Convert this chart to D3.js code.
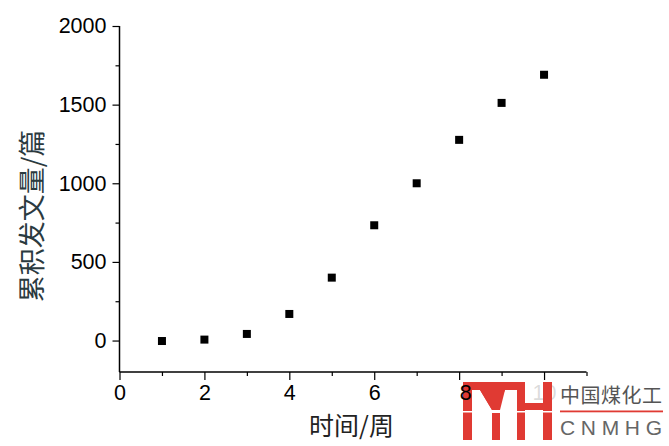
<!DOCTYPE html>
<html><head><meta charset="utf-8">
<script src="https://cdn.jsdelivr.net/npm/d3@7"></script>
<style>body{margin:0;background:#fff}svg{display:block}</style>
</head><body>
<svg id="c" width="669" height="446"></svg>
<script>
const weeks = [1,2,3,4,5,6,7,8,9,10];
const cumulative = [-3,6,42,169,400,733,1000,1276,1511,1690];
const xMajorTicks = [0,2,4,6,8,10];
const xMinorTicks = [1,3,5,7,9,11];
const yMajorTicks = [0,500,1000,1500,2000];
const yMinorTicks = [250,750,1250,1750];
const xTitle = "时间/周";
const yTitle = "累积发文量/篇";
const logoCn = "中国煤化工";
const logoEn = "CNMHG";

const svg = d3.select("#c");
const x = d3.scaleLinear().domain([0,11]).range([119.5,586.5]);
const y = d3.scaleLinear().domain([-200,2000]).range([372,26]);
const numFont = "'Liberation Sans', Arial, sans-serif";
const cjkFont = "'Noto Sans CJK SC', sans-serif";

// axes
const gx = svg.append("g").attr("transform","translate(0,372)");
gx.call(d3.axisBottom(x).tickValues(xMajorTicks).tickSize(8).tickPadding(5).tickFormat(d3.format("d")));
const gxm = svg.append("g").attr("transform","translate(0,372)");
gxm.call(d3.axisBottom(x).tickValues(xMinorTicks).tickSize(4).tickFormat(""));
const gy = svg.append("g").attr("transform","translate(119.5,0)");
gy.call(d3.axisLeft(y).tickValues(yMajorTicks).tickSize(7).tickPadding(6).tickFormat(d3.format("d")));
const gym = svg.append("g").attr("transform","translate(119.5,0)");
gym.call(d3.axisLeft(y).tickValues(yMinorTicks).tickSize(4).tickFormat(""));
[gx,gxm,gy,gym].forEach(g=>{
  g.select(".domain").remove();
  g.selectAll(".tick line").attr("stroke","#000").attr("stroke-width",1.2);
  g.selectAll(".tick text").attr("font-family",numFont).attr("font-size",21.5).attr("fill","#000");
});
svg.append("line").attr("x1",x(0)).attr("x2",x(11)).attr("y1",372).attr("y2",372).attr("stroke","#000").attr("stroke-width",1.5);
svg.append("line").attr("x1",119.5).attr("x2",119.5).attr("y1",y(-200)).attr("y2",y(2000)).attr("stroke","#000").attr("stroke-width",1.5);

// points
svg.append("g").selectAll("rect").data(weeks.map((w,i)=>[w,cumulative[i]])).join("rect")
  .attr("x",d=>x(d[0])-4).attr("y",d=>y(d[1])-4).attr("width",8).attr("height",8).attr("fill","#000");

// titles
svg.append("text").attr("x",351.5).attr("y",435).attr("text-anchor","middle")
  .attr("font-family",cjkFont).attr("font-size",25).attr("fill","#222").text(xTitle);
svg.append("text").attr("transform","translate(42,216) rotate(-90)").attr("text-anchor","middle")
  .attr("font-family",cjkFont).attr("font-size",27).attr("fill","#2b3a3f").text(yTitle);

// watermark overlay
svg.append("rect").attr("x",465).attr("y",381).attr("width",204).attr("height",65).attr("fill","#fff").attr("opacity",0.86);
const red = "#e03a33";
const lg = svg.append("g");
lg.append("path").attr("fill",red).attr("d",
  "M463,382 H525 V440 H517 V390 H505 L496,410 H492 L480,390 H472 V440 H463 Z");
lg.append("path").attr("fill",red).attr("d","M480,390 L492,410 H500 L505,390 Z");
lg.append("rect").attr("x",492).attr("y",413).attr("width",8).attr("height",27).attr("fill",red);
lg.append("rect").attr("x",525).attr("y",403).attr("width",18).attr("height",7).attr("fill",red);
lg.append("rect").attr("x",543).attr("y",382).attr("width",9).attr("height",58).attr("fill",red);
lg.append("rect").attr("x",460).attr("y",411).attr("width",95).attr("height",1.5).attr("fill","#fff");
svg.append("text").attr("x",560).attr("y",403).attr("font-family",cjkFont).attr("font-size",20)
  .attr("textLength",102).attr("fill","#555").text(logoCn);
svg.append("rect").attr("x",560).attr("y",410.5).attr("width",103).attr("height",1.8).attr("fill",red);
svg.append("text").attr("x",560).attr("y",435).attr("font-family",numFont).attr("font-size",21)
  .attr("textLength",102).attr("lengthAdjust","spacing").attr("fill","#666").text(logoEn);

// keep the "8" tick label above the watermark
const top8 = svg.append("g").attr("transform","translate(0,372)");
gx.selectAll(".tick").filter(d=>d===8).each(function(){ top8.node().appendChild(this); });
</script>
</body></html>
